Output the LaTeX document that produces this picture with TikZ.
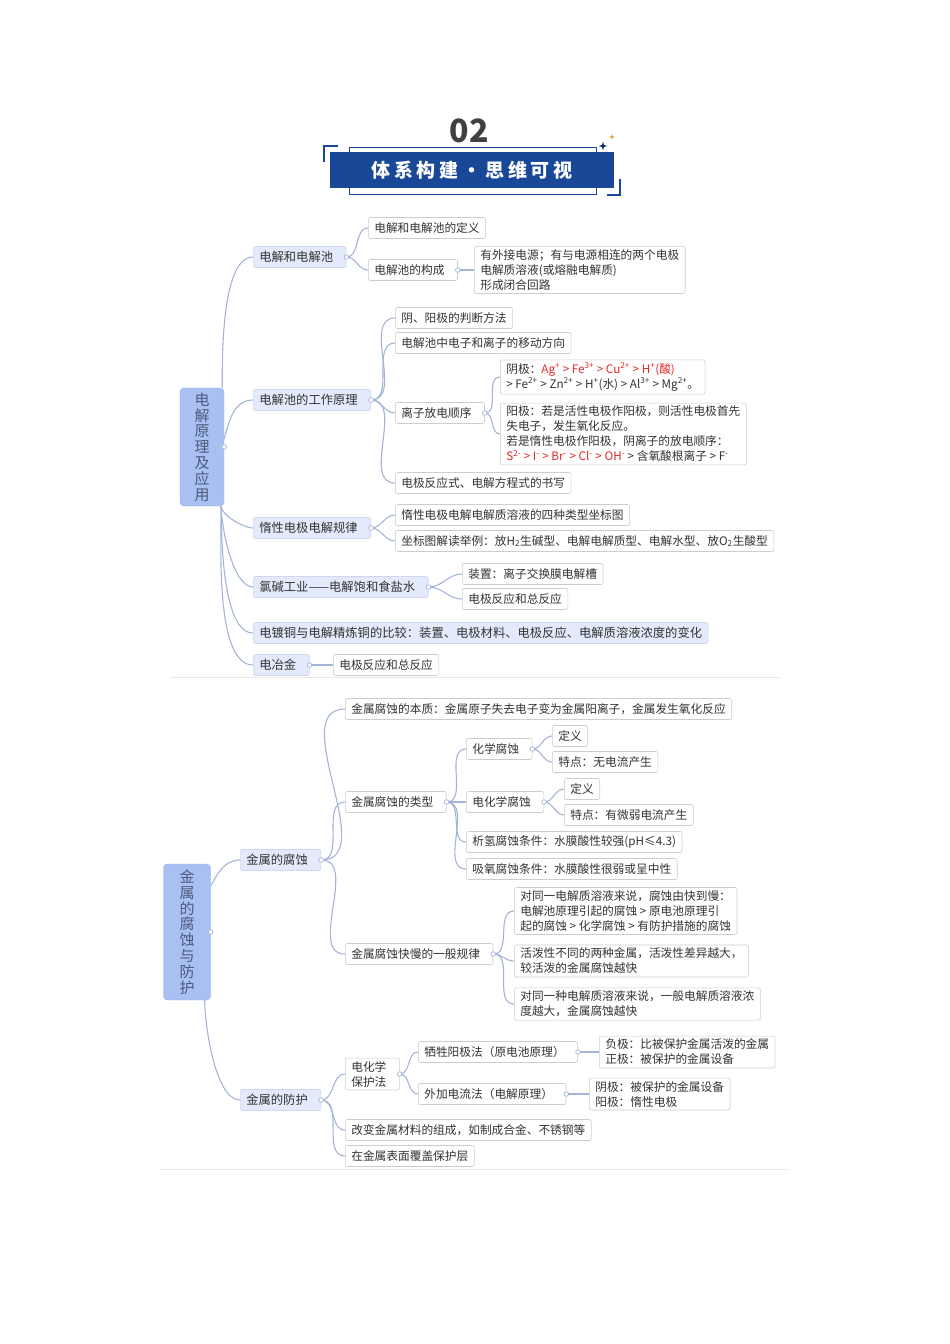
\documentclass[tikz,border=0pt]{standalone}
\usepackage{fontspec}
\setmainfont{Noto Sans CJK SC}
\usetikzlibrary{positioning}

\definecolor{linkc}{RGB}{163,180,215}
\definecolor{rootfill}{RGB}{168,192,242}
\definecolor{rootdraw}{RGB}{150,175,232}
\definecolor{rootink}{RGB}{78,90,125}
\definecolor{hubfill}{RGB}{226,234,251}
\definecolor{hubdraw}{RGB}{205,216,240}
\definecolor{boxdraw}{RGB}{205,205,205}
\definecolor{ink}{RGB}{51,51,51}
\definecolor{ionred}{RGB}{228,40,40}
\definecolor{banner}{RGB}{25,72,152}
\definecolor{numgray}{RGB}{64,64,64}
\definecolor{sepline}{RGB}{232,232,232}
\definecolor{sparkgold}{RGB}{230,150,50}

\newcommand{\leaffont}{\fontsize{11.7}{15}\selectfont}
\newcommand{\topicfont}{\fontsize{12.3}{15}\selectfont}
\newcommand{\ion}[1]{\textcolor{ionred}{#1}}
\newcommand{\up}[1]{\textsuperscript{#1}}

\begin{document}
\begin{tikzpicture}[
    x=1pt, y=1pt,
    % estilos de nodos
    base/.style = {rounded corners=2pt, inner xsep=6pt, inner ysep=3pt, minimum height=21pt,
                   anchor=west, text=ink, align=left, line width=0.6pt},
    leaf/.style = {base, draw=boxdraw, fill=white, font=\leaffont},
    topic/.style = {base, draw=hubdraw, fill=hubfill, font=\topicfont},
    gap/.style = {execute at end node={\hspace{7pt}}},
    root/.style = {draw=rootdraw, fill=rootfill, rounded corners=4pt, text=rootink, align=center,
                   font=\fontsize{15}{15.8}\selectfont, inner sep=0pt},
    link/.style = {draw=linkc, line width=1.1pt},
    knob/.style = {draw=linkc, fill=white, line width=0.7pt}
]
\useasboundingbox (0,0) rectangle (950,-1344);

% ===============================
% Cabecera
% ===============================
\node (num) [text=numgray, font=\fontsize{32}{32}\selectfont\bfseries] at (469,-131) {02};
\draw [banner, line width=0.8pt] (349,-147) rectangle (596,-194);
\node (title) [fill=banner, text=white, minimum width=284pt, minimum height=36pt, inner sep=0pt,
      font=\fontsize{19}{19}\selectfont\bfseries\addfontfeatures{LetterSpace=20}] at (472,-170) {体系构建・思维可视};
\draw [banner, line width=1.1pt] (338,-146) -- (324,-146) -- (324,-162);
\draw [banner, line width=1.1pt] (607,-195) -- (620,-195) -- (620,-179);
\fill [banner!70!black] (603,-141.5) -- (604,-145) -- (607.5,-146) -- (604,-147) -- (603,-150.5)
      -- (602,-147) -- (598.5,-146) -- (602,-145) -- cycle;
\fill [sparkgold] (612,-134) -- (612.7,-136.3) -- (615,-137) -- (612.7,-137.7) -- (612,-140)
      -- (611.3,-137.7) -- (609,-137) -- (611.3,-136.3) -- cycle;

% ===============================
% 1. Electrolisis
% ===============================
\node (r1) [root, minimum width=44pt, minimum height=118pt] at (202,-447) {电\\解\\原\\理\\及\\应\\用};

\node (n11) [topic, gap] at (253,-257) {电解和电解池};
\node (a1) [leaf] at (368,-228) {电解和电解池的定义};
\node (a2) [leaf, gap] at (368,-270) {电解池的构成};
\node (a3) [leaf] at (474,-270) {有外接电源；有与电源相连的两个电极\\电解质溶液(或熔融电解质)\\形成闭合回路};

\node (n12) [topic, gap] at (253,-400) {电解池的工作原理};
\node (b1) [leaf] at (395,-318) {阴、阳极的判断方法};
\node (b2) [leaf] at (395,-343) {电解池中电子和离子的移动方向};
\node (b3) [leaf, gap] at (395,-413) {离子放电顺序};
\node (b4) [leaf] at (395,-483) {电极反应式、电解方程式的书写};
\node (b5) [leaf] at (500,-377) {阴极：\ion{Ag\up{+} > Fe\up{3+} > Cu\up{2+} > H\up{+}(酸)}\\> Fe\up{2+} > Zn\up{2+} > H\up{+}(水) > Al\up{3+} > Mg\up{2+}。};
\node (b6) [leaf] at (500,-434) {阳极：若是活性电极作阳极，则活性电极首先\\失电子，发生氧化反应。\\若是惰性电极作阳极，阴离子的放电顺序：\\\ion{S\up{2-} > I\up{-} > Br\up{-} > Cl\up{-} > OH\up{-}} > 含氧酸根离子 > F\up{-}};

\node (n13) [topic, gap] at (253,-528) {惰性电极电解规律};
\node (c1) [leaf] at (395,-515) {惰性电极电解电解质溶液的四种类型坐标图};
\node (c2) [leaf] at (395,-541) {坐标图解读举例：放H\textsubscript{2}生碱型、电解电解质型、电解水型、放O\textsubscript{2}生酸型};

\node (n14) [topic, gap] at (253,-587) {氯碱工业——电解饱和食盐水};
\node (d1) [leaf] at (462,-574) {装置：离子交换膜电解槽};
\node (d2) [leaf] at (462,-599) {电极反应和总反应};

\node (n15) [topic] at (253,-633) {电镀铜与电解精炼铜的比较：装置、电极材料、电极反应、电解质溶液浓度的变化};

\node (n16) [topic, gap] at (253,-665) {电冶金};
\node (e1) [leaf] at (333,-665) {电极反应和总反应};

\draw [sepline, line width=1pt] (170,-677) -- (780,-677);

% ===============================
% 2. Corrosion
% ===============================
\node (r2) [root, minimum width=47pt, minimum height=136pt] at (187,-932) {金\\属\\的\\腐\\蚀\\与\\防\\护};

\node (m1) [topic, gap] at (240,-860) {金属的腐蚀};
\node (f1) [leaf] at (345,-709) {金属腐蚀的本质：金属原子失去电子变为金属阳离子，金属发生氧化反应};
\node (f2) [leaf, gap] at (345,-802) {金属腐蚀的类型};
\node (f3) [leaf, gap] at (345,-954) {金属腐蚀快慢的一般规律};

\node (g1) [leaf, gap] at (466,-749) {化学腐蚀};
\node (g2) [leaf, gap] at (466,-802) {电化学腐蚀};
\node (g3) [leaf] at (466,-842) {析氢腐蚀条件：水膜酸性较强(pH≤4.3)};
\node (g4) [leaf] at (466,-869) {吸氧腐蚀条件：水膜酸性很弱或呈中性};

\node (h1) [leaf] at (552,-736) {定义};
\node (h2) [leaf] at (552,-762) {特点：无电流产生};
\node (h3) [leaf] at (564,-789) {定义};
\node (h4) [leaf] at (564,-815) {特点：有微弱电流产生};

\node (i1) [leaf] at (514,-911) {对同一电解质溶液来说，腐蚀由快到慢：\\电解池原理引起的腐蚀 > 原电池原理引\\起的腐蚀 > 化学腐蚀 > 有防护措施的腐蚀};
\node (i2) [leaf] at (514,-961) {活泼性不同的两种金属，活泼性差异越大，\\较活泼的金属腐蚀越快};
\node (i3) [leaf] at (514,-1004) {对同一种电解质溶液来说，一般电解质溶液浓\\度越大，金属腐蚀越快};

\node (m2) [topic, gap] at (240,-1100) {金属的防护};
\node (j1) [leaf, gap] at (345,-1074) {电化学\\保护法};
\node (j2) [leaf] at (345,-1130) {改变金属材料的组成，如制成合金、不锈钢等};
\node (j3) [leaf] at (345,-1156) {在金属表面覆盖保护层};
\node (k1) [leaf, gap] at (418,-1052) {牺牲阳极法（原电池原理）};
\node (k2) [leaf, gap] at (418,-1094) {外加电流法（电解原理）};
\node (l1) [leaf] at (599,-1052) {负极：比被保护金属活泼的金属\\正极：被保护的金属设备};
\node (l2) [leaf] at (589,-1094) {阴极：被保护的金属设备\\阳极：惰性电极};

\draw [sepline, line width=1pt] (160,-1169) -- (788,-1169);

% ===============================
% Ramas
% ===============================
\begin{scope}[on background layer/.try]
\draw [link] ([xshift=-2pt]r1.north east) to[out=90, in=180, looseness=0.6] (n11.west);
\draw [link] ([yshift=8pt]r1.east) to[out=75, in=180] (n12.west);
\foreach \c in {n13,n14,n15,n16}
    \draw [link] ([xshift=-3pt]r1.south east) to[out=-90, in=180, looseness=0.6] (\c.west);
\draw [link] ([yshift=-22pt]r2.north east) to[out=60, in=180] (m1.west);
\draw [link] ([xshift=-6pt]r2.south east) to[out=-90, in=180, looseness=0.6] (m2.west);

\foreach \p/\c in {n11/a1, n11/a2, a2/a3, n12/b1, n12/b2, n12/b3, n12/b4, b3/b5, b3/b6,
                   n13/c1, n13/c2, n14/d1, n14/d2, n16/e1,
                   m1/f1, m1/f2, m1/f3, f2/g1, f2/g2, f2/g3, f2/g4, g1/h1, g1/h2, g2/h3, g2/h4,
                   f3/i1, f3/i2, f3/i3, m2/j1, m2/j2, m2/j3, j1/k1, j1/k2, k1/l1, k2/l2}
    \draw [link] (\p.east) to[out=0, in=180] (\c.west);
\end{scope}

\foreach \h in {r1,r2,n11,a2,n12,b3,n13,n14,n16,m1,f2,g1,g2,f3,m2,j1,k1,k2}
    \draw [knob] (\h.east) circle (2.3);

\end{tikzpicture}
\end{document}
